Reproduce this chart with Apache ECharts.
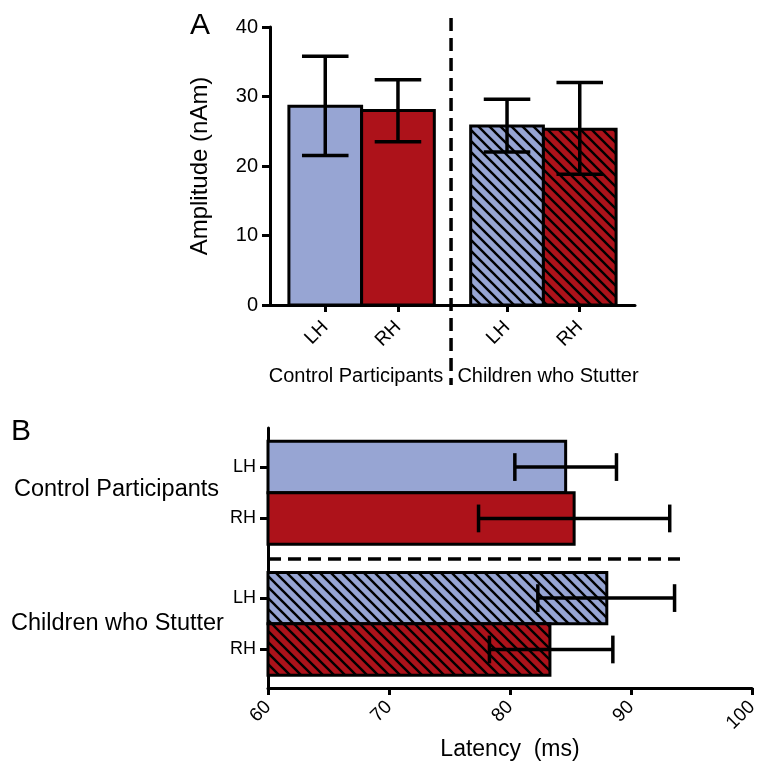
<!DOCTYPE html>
<html>
<head>
<meta charset="utf-8">
<script src="https://cdn.jsdelivr.net/npm/echarts@6/dist/echarts.min.js"></script>
<style>html,body{margin:0;padding:0;background:#fff}#c{width:777px;height:769px}</style>
</head>
<body>
<div id="c"></div>
<script>
// ---- data ----
const barLabels = ['LH', 'RH', 'LH', 'RH'];
const groupLabels = ['Control Participants', 'Children who Stutter'];
const hatched = [false, false, true, true];
const ampMean = [28.6, 28.0, 25.75, 25.3];
const ampLow = [21.5, 23.5, 22.0, 18.8];
const ampHigh = [35.8, 32.4, 29.6, 32.0];
const ampTicks = [0, 10, 20, 30, 40];
const latMean = [84.6, 85.3, 88.0, 83.3];
const latLow = [80.4, 77.4, 82.3, 78.3];
const latHigh = [88.8, 93.2, 93.6, 88.5];
const latTicks = [60, 70, 80, 90, 100];

// ---- layout helpers ----
const slots = [0, 1, 2.5, 3.5];
const slotsB = [0, 1, 2.55, 3.55];
const BLUE = '#97A5D3', RED = '#AD121A';
const FONT = '"Liberation Sans", Arial, Helvetica, sans-serif';

function hatch(bg) {
  const s = 11, c = document.createElement('canvas');
  c.width = s; c.height = s;
  const g = c.getContext('2d');
  g.fillStyle = bg; g.fillRect(0, 0, s, s);
  g.strokeStyle = '#000'; g.lineWidth = 2.4;
  for (let k = -1; k <= 1; k++) {
    g.beginPath(); g.moveTo(-1, k * s - 1); g.lineTo(s + 1, s + k * s + 1); g.stroke();
  }
  return c;
}
const fills = barLabels.map((l, i) => {
  const col = l === 'LH' ? BLUE : RED;
  return hatched[i] ? { image: hatch(col), repeat: 'repeat' } : col;
});

const topData = ampMean.map((m, i) => [slots[i], m, ampLow[i], ampHigh[i], i]);
const botData = latMean.map((m, i) => [slotsB[i], m, latLow[i], latHigh[i], i]);

const axisTxt = { color: '#000', fontFamily: FONT };

const option = {
  animation: false,
  grid: [
    { left: 270, right: 142, top: 27, bottom: 464 },
    { left: 268, right: 25, top: 428, bottom: 81 }
  ],
  xAxis: [
    {
      gridIndex: 0, type: 'value', min: -0.76, max: 4.26,
      axisLine: { show: true, onZero: false, lineStyle: { color: '#000', width: 3 } },
      axisTick: { show: true, customValues: slots, length: 7, lineStyle: { color: '#000', width: 3 } },
      axisLabel: { show: true, customValues: slots, rotate: 45, margin: 19, fontSize: 19, ...axisTxt,
        formatter: v => barLabels[slots.indexOf(v)] || '' },
      splitLine: { show: false }
    },
    {
      gridIndex: 1, type: 'value', min: latTicks[0], max: latTicks[latTicks.length - 1], interval: 10,
      axisLine: { show: true, onZero: false, lineStyle: { color: '#000', width: 3 } },
      axisTick: { show: true, length: 7, lineStyle: { color: '#000', width: 3 } },
      axisLabel: { rotate: 45, margin: 16, fontSize: 19, ...axisTxt },
      splitLine: { show: false },
      name: 'Latency  (ms)', nameLocation: 'middle', nameGap: 50,
      nameTextStyle: { fontSize: 23, ...axisTxt }
    }
  ],
  yAxis: [
    {
      gridIndex: 0, type: 'value', min: 0, max: 40, interval: 10,
      axisLine: { show: true, onZero: false, lineStyle: { color: '#000', width: 3 } },
      axisTick: { show: true, length: 8, lineStyle: { color: '#000', width: 3 } },
      axisLabel: { margin: 12, fontSize: 20, ...axisTxt },
      splitLine: { show: false },
      name: 'Amplitude (nAm)', nameLocation: 'middle', nameGap: 58,
      nameTextStyle: { fontSize: 24, ...axisTxt }
    },
    {
      gridIndex: 1, type: 'value', inverse: true, min: -0.76, max: 4.3,
      axisLine: { show: true, onZero: false, lineStyle: { color: '#000', width: 3 } },
      axisTick: { show: true, customValues: slotsB, length: 8, lineStyle: { color: '#000', width: 3 } },
      axisLabel: { show: true, customValues: slotsB, margin: 12, fontSize: 18, ...axisTxt,
        formatter: v => barLabels[slotsB.indexOf(v)] || '' },
      splitLine: { show: false }
    }
  ],
  series: [
    {
      type: 'custom', xAxisIndex: 0, yAxisIndex: 0, data: topData, clip: false, z: 2,
      renderItem: (params, api) => {
        const pos = api.value(0), m = api.value(1), lo = api.value(2), hi = api.value(3), i = api.value(4);
        const a = api.coord([pos - 0.5, 0]), b = api.coord([pos + 0.5, m]);
        const c = api.coord([pos, lo]), d = api.coord([pos, hi]);
        const cw = api.size([0.32, 0])[0];
        return { type: 'group', children: [
          { type: 'rect', shape: { x: a[0], y: b[1], width: b[0] - a[0], height: a[1] - b[1] },
            style: { fill: fills[i], stroke: '#000', lineWidth: 3 } },
          { type: 'line', shape: { x1: c[0], y1: c[1], x2: d[0], y2: d[1] }, style: { stroke: '#000', lineWidth: 3.5 } },
          { type: 'line', shape: { x1: c[0] - cw, y1: c[1], x2: c[0] + cw, y2: c[1] }, style: { stroke: '#000', lineWidth: 3.5 } },
          { type: 'line', shape: { x1: d[0] - cw, y1: d[1], x2: d[0] + cw, y2: d[1] }, style: { stroke: '#000', lineWidth: 3.5 } }
        ] };
      }
    },
    {
      type: 'custom', xAxisIndex: 0, yAxisIndex: 0, data: [[1.73, 41.3, -11.5]], clip: false, z: 3,
      renderItem: (params, api) => {
        const a = api.coord([api.value(0), api.value(1)]), b = api.coord([api.value(0), api.value(2)]);
        return { type: 'line', shape: { x1: a[0], y1: a[1], x2: b[0], y2: b[1] },
          style: { stroke: '#000', lineWidth: 3.5, lineDash: [13, 7] } };
      }
    },
    {
      type: 'custom', xAxisIndex: 1, yAxisIndex: 1, data: botData, clip: false, z: 2,
      renderItem: (params, api) => {
        const pos = api.value(0), m = api.value(1), lo = api.value(2), hi = api.value(3), i = api.value(4);
        const a = api.coord([latTicks[0], pos - 0.5]), b = api.coord([m, pos + 0.5]);
        const c = api.coord([lo, pos]), d = api.coord([hi, pos]);
        const ch = api.size([0, 0.27])[1];
        return { type: 'group', children: [
          { type: 'rect', shape: { x: a[0], y: Math.min(a[1], b[1]), width: b[0] - a[0], height: Math.abs(b[1] - a[1]) },
            style: { fill: fills[i], stroke: '#000', lineWidth: 3 } },
          { type: 'line', shape: { x1: c[0], y1: c[1], x2: d[0], y2: d[1] }, style: { stroke: '#000', lineWidth: 3.5 } },
          { type: 'line', shape: { x1: c[0], y1: c[1] - ch, x2: c[0], y2: c[1] + ch }, style: { stroke: '#000', lineWidth: 3.5 } },
          { type: 'line', shape: { x1: d[0], y1: d[1] - ch, x2: d[0], y2: d[1] + ch }, style: { stroke: '#000', lineWidth: 3.5 } }
        ] };
      }
    },
    {
      type: 'custom', xAxisIndex: 1, yAxisIndex: 1, data: [[60, 94.05, 1.79]], clip: false, z: 3,
      renderItem: (params, api) => {
        const a = api.coord([api.value(0), api.value(2)]), b = api.coord([api.value(1), api.value(2)]);
        return { type: 'line', shape: { x1: a[0], y1: a[1], x2: b[0], y2: b[1] },
          style: { stroke: '#000', lineWidth: 3.5, lineDash: [13, 7] } };
      }
    }
  ],
  graphic: [
    { type: 'text', left: 190, top: 11, style: { text: 'A', fontSize: 30, fill: '#000', fontFamily: FONT } },
    { type: 'text', left: 11, top: 417, style: { text: 'B', fontSize: 30, fill: '#000', fontFamily: FONT } },
    { type: 'text', x: 356, y: 376, style: { text: groupLabels[0], fontSize: 20, fill: '#000', fontFamily: FONT, align: 'center', verticalAlign: 'middle' } },
    { type: 'text', x: 548, y: 376, style: { text: groupLabels[1], fontSize: 20, fill: '#000', fontFamily: FONT, align: 'center', verticalAlign: 'middle' } },
    { type: 'text', x: 14, y: 490, style: { text: groupLabels[0], fontSize: 23.5, fill: '#000', fontFamily: FONT, align: 'left', verticalAlign: 'middle' } },
    { type: 'text', x: 11, y: 624, style: { text: groupLabels[1], fontSize: 23.5, fill: '#000', fontFamily: FONT, align: 'left', verticalAlign: 'middle' } }
  ]
};
const chart = echarts.init(document.getElementById('c'), null, { renderer: 'canvas' });
chart.setOption(option);
</script>
</body>
</html>
